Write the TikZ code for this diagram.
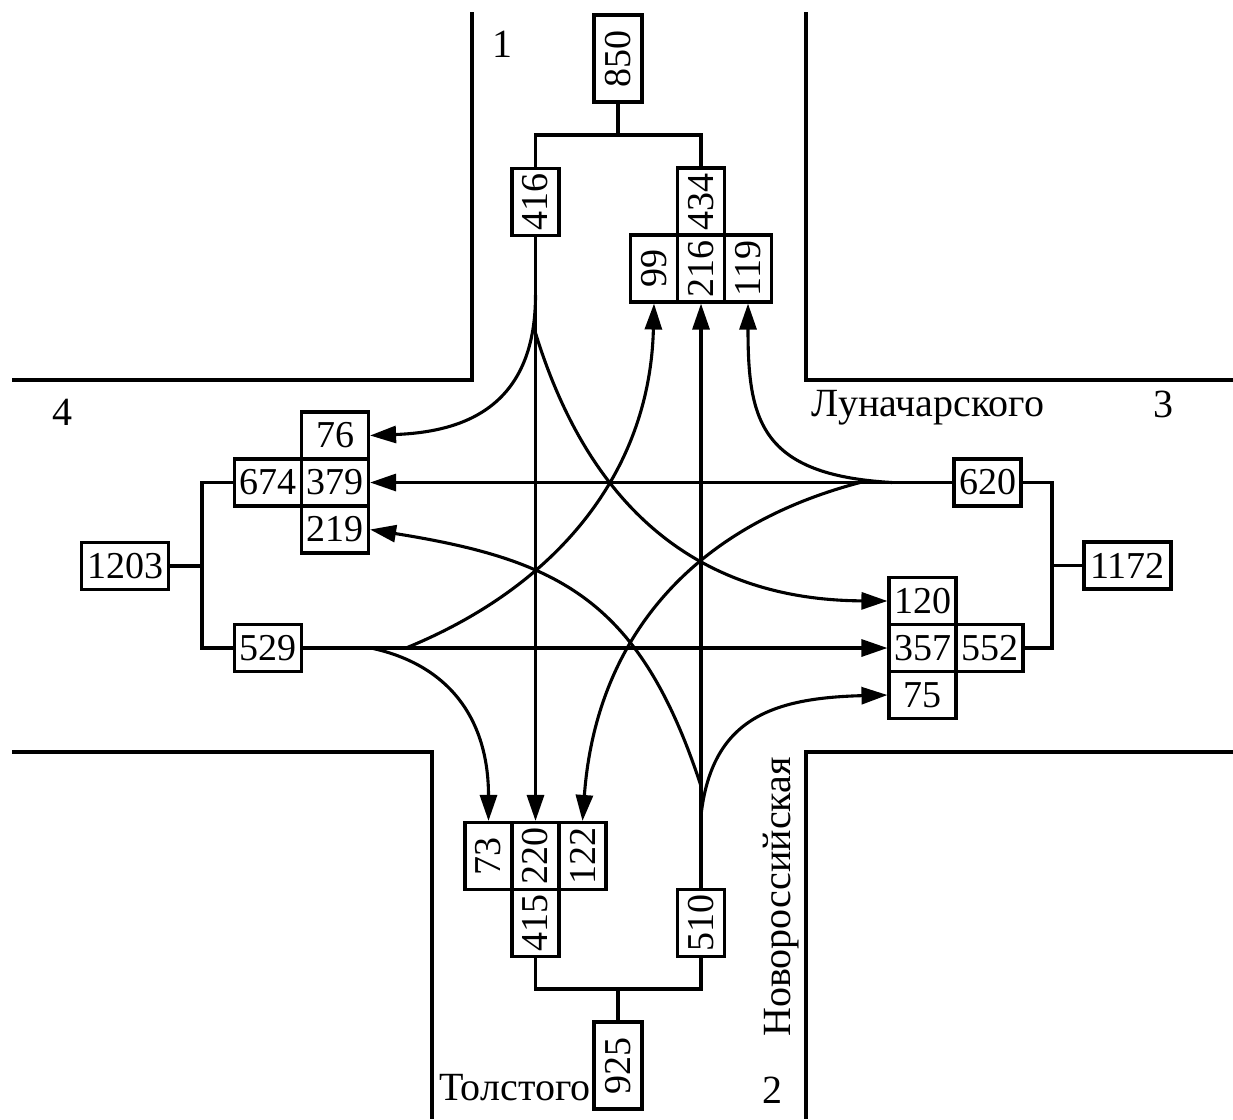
\documentclass[tikz,border=0pt]{standalone}
\usepackage{fontspec}
\setmainfont{LiberationSerif}[Extension=.ttf, UprightFont=*-Regular, BoldFont=*-Bold, ItalicFont=*-Italic, BoldItalicFont=*-BoldItalic]
\usetikzlibrary{arrows.meta}
\begin{document}
\begin{tikzpicture}[x=1pt,y=-1pt, line width=3.1pt,
  every node/.style={font=\fontsize{38}{40}\selectfont, inner sep=0pt},
  hc/.style={draw, minimum width=67pt, minimum height=47pt},
  vc/.style={draw, minimum width=47pt, minimum height=67pt},
  bigv/.style={draw, minimum width=48pt, minimum height=87pt},
  bigh/.style={draw, minimum width=87pt, minimum height=47pt},
  arr/.style={-{Triangle[length=26pt,width=17pt]}},
  lbl/.style={font=\fontsize{40}{42}\selectfont}]
\useasboundingbox (0,0) rectangle (1233,1119);
% roads
\draw (472,12) -- (472,380) -- (12,380);
\draw (806,12) -- (806,380) -- (1233,380);
\draw (12,752) -- (432,752) -- (432,1119);
\draw (1233,752) -- (806,752) -- (806,1119);
% north group
\node[bigv] (n850) at (618,58.5) {\rotatebox{90}{850}};
\node[vc] (n416) at (535.5,202) {\rotatebox{90}{416}};
\node[vc] (n434) at (701,201.5) {\rotatebox{90}{434}};
\node[vc] (n99) at (654,268.5) {\rotatebox{90}{99}};
\node[vc] (n216) at (701,268.5) {\rotatebox{90}{216}};
\node[vc] (n119) at (748,268.5) {\rotatebox{90}{119}};
\coordinate (tj) at (618,135);
\draw (n416.north) |- (tj) -| (n434.north);
\draw (n850.south) -- (tj);
% west group
\node[hc] (n76) at (335,435.5) {76};
\node[hc] (n379) at (335,482.5) {379};
\node[hc] (n219) at (335,529.5) {219};
\node[hc] (n674) at (268,482.5) {674};
\node[hc] (n529) at (268,648) {529};
\node[bigh] (n1203) at (125,566) {1203};
\coordinate (lj) at (202,566);
\draw (n674.west) -| (lj) |- (n529.west);
\draw (n1203.east) -- (lj);
% east group
\node[hc] (n620) at (987.5,482.5) {620};
\node[hc] (n120) at (922.5,601) {120};
\node[hc] (n357) at (922.5,648) {357};
\node[hc] (n75) at (922.5,695) {75};
\node[hc] (n552) at (989.5,648) {552};
\node[bigh] (n1172) at (1127.5,565.5) {1172};
\coordinate (rj) at (1052,565.5);
\draw (n620.east) -| (rj) |- (n552.east);
\draw (n1172.west) -- (rj);
% south group
\node[vc] (n73) at (488.5,856) {\rotatebox{90}{73}};
\node[vc] (n220) at (535.5,856) {\rotatebox{90}{220}};
\node[vc] (n122) at (582.5,856) {\rotatebox{90}{122}};
\node[vc] (n415) at (535.5,923) {\rotatebox{90}{415}};
\node[vc] (n510) at (701,923) {\rotatebox{90}{510}};
\node[bigv] (n925) at (618,1065.5) {\rotatebox{90}{925}};
\coordinate (bj) at (618,989);
\draw (n415.south) |- (bj) -| (n510.south);
\draw (n925.north) -- (bj);
% straight flows
\draw[arr] (n416.south) -- (n220.north);
\draw[arr] (n510.north) -- (n216.south);
\draw[arr] (n620.west) -- (n379.east);
\draw[arr] (n529.east) -- (n357.west);
% turning flows
\coordinate (nA) at (535.5,295);
\coordinate (nB) at (535.5,333);
\draw[arr] (nA) .. controls (535.5,410) and (460,432) .. (n76.east);
\draw[arr] (nB) .. controls (590,510) and (700,600) .. (n120.west);
\coordinate (eA) at (892,482.5);
\coordinate (eB) at (860,482.5);
\draw[arr] (eA) .. controls (760,475) and (748,420) .. (n119.south);
\draw[arr] (eB) .. controls (680,530) and (595,650) .. (n122.north);
\coordinate (wA) at (371,648);
\coordinate (wB) at (406,648);
\draw[arr] (wA) .. controls (450,665) and (488.5,720) .. (n73.north);
\draw[arr] (wB) .. controls (560,585) and (650,470) .. (n99.south);
\coordinate (sA) at (701,786);
\coordinate (sB) at (701,815);
\draw[arr] (sA) .. controls (640,600) and (560,560) .. (n219.east);
\draw[arr] (sB) .. controls (712,720) and (770,698) .. (n75.west);
% labels
\node[lbl, anchor=base] (l1) at (502,57) {1};
\node[lbl, anchor=base] (l4) at (62,425) {4};
\node[lbl, anchor=base] (l3) at (1163,417) {3};
\node[lbl, anchor=base] (luna) at (928,416) {Луначарского};
\node[lbl, anchor=base] (l2) at (772,1103) {2};
\node[lbl, anchor=base east] (tol) at (592,1100) {Толстого};
\node[lbl] (nov) at (781,897) {\rotatebox{90}{Новороссийская}};
\end{tikzpicture}
\end{document}
